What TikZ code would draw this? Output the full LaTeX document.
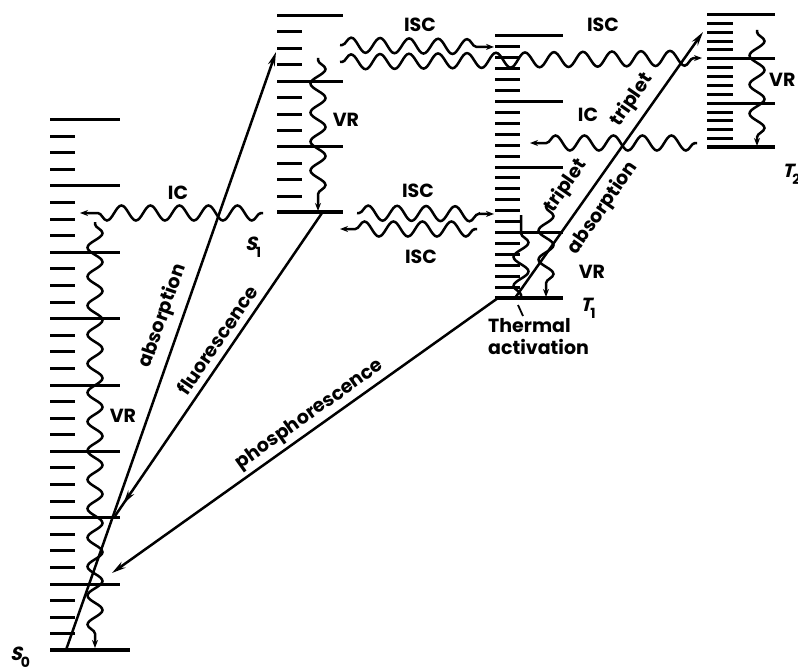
\documentclass[tikz,border=0pt]{standalone}
\usepackage{fontspec}
\setmainfont{Poppins}
\newfontfamily\slfont{Poppins}[FakeSlant=0.25]
\usetikzlibrary{decorations.pathmorphing,decorations.markings,arrows.meta}
\newcommand\stlbl[2]{{\slfont\bfseries #1}\kern-1pt\raisebox{-0.7ex}{\fontsize{14}{14}\selectfont\bfseries #2}}
\begin{document}
\begin{tikzpicture}[x=1pt,y=-1pt,
 lvl/.style={line width=3pt},
 gnd/.style={line width=4pt},
 wv/.style={line width=2.5pt, decorate, decoration={snake, amplitude=7.5pt, segment length=29pt, pre length=2pt, post length=6pt}},
 wva/.style={wv, -{Stealth[length=8pt,width=6pt]}},
 ray/.style={line width=2.5pt},
 raya/.style={ray, -{Stealth[length=14pt,width=7pt]}},
 lbl/.style={font=\fontsize{19}{22}\selectfont\bfseries, inner sep=0pt},
]
\useasboundingbox (0,0) rectangle (798,669);
% ---- S0 stack
\foreach \k in {0,...,7} {
  \pgfmathsetmacro\yy{round(119+66.375*\k)+0.5}
  \draw[lvl] (50,\yy) -- (120,\yy);
  \foreach \j in {1,2,3} {
    \pgfmathsetmacro\ys{round(119+66.375*\k+16.594*\j)+0.5}
    \draw[lvl] (50,\ys) -- (75,\ys);}
}
\draw[gnd] (50,650) -- (130,650);
% ---- S1 stack
\foreach \k in {0,1,2} {
  \pgfmathsetmacro\yy{round(15+65.667*\k)+0.5}
  \draw[lvl] (277,\yy) -- (343,\yy);
  \foreach \j in {1,2,3} {
    \pgfmathsetmacro\ys{round(15+65.667*\k+16.417*\j)+0.5}
    \draw[lvl] (277,\ys) -- (302,\ys);}
}
\draw[gnd] (277,212) -- (343,212);
% ---- T1 stack
\foreach \k in {0,...,3} {
  \pgfmathsetmacro\yy{round(35+65.75*\k)+0.5}
  \draw[lvl] (495,\yy) -- (563,\yy);
  \foreach \j in {1,...,5} {
    \pgfmathsetmacro\ys{round(35+65.75*\k+10.958*\j)+0.5}
    \draw[lvl] (495,\ys) -- (520,\ys);}
}
\draw[gnd] (495,298) -- (563,298);
% ---- T2 stack
\foreach \k in {0,1,2} {
  \pgfmathsetmacro\yy{round(14+44.333*\k)+0.5}
  \draw[lvl] (707,\yy) -- (775,\yy);
  \foreach \j in {1,...,4} {
    \pgfmathsetmacro\ys{round(14+44.333*\k+8.867*\j)+0.5}
    \draw[lvl] (707,\ys) -- (733,\ys);}
}
\draw[gnd] (707,147) -- (775,147);

% ---- coordinates
\coordinate (icA) at (263,213);  \coordinate (icB) at (80,213);
\coordinate (vr0a) at (95,222);  \coordinate (vr0b) at (95,648);
\coordinate (vr1a) at (318,58);  \coordinate (vr1b) at (318,211);
\coordinate (vr2a) at (757,30);  \coordinate (vr2b) at (757,146);
\coordinate (vr3a) at (546,205); \coordinate (vr3b) at (546,297);
\coordinate (taA) at (521,297);  \coordinate (taB) at (521,215);
\coordinate (iscAa) at (340,45); \coordinate (iscAb) at (494,47);
\coordinate (iscBa) at (340,62); \coordinate (iscBb) at (702,58);
\coordinate (iscCa) at (357,213); \coordinate (iscCb) at (494,214);
\coordinate (iscDa) at (477,229); \coordinate (iscDb) at (340,229);
\coordinate (icTa) at (697,143); \coordinate (icTb) at (530,143);
\coordinate (absA) at (66,650);  \coordinate (absB) at (276,52);
\coordinate (flA) at (322,213);  \coordinate (flB) at (115,516);
\coordinate (phA) at (498,298);  \coordinate (phB) at (112,573);
\coordinate (trA) at (515,298);  \coordinate (trB) at (703,32);
\coordinate (tkA) at (518,305);  \coordinate (tkB) at (523,316);

% ---- wavy transitions
\draw[wva] (icA) -- (icB);
\draw[wva] (vr0a) -- (vr0b);
\draw[wva] (vr1a) -- (vr1b);
\draw[wva] (vr2a) -- (vr2b);
\draw[wva] (vr3a) -- (vr3b);
\draw[wv] (taA) -- (taB);
\draw[wva] (iscAa) -- (iscAb);
\draw[wva] (iscBa) -- (iscBb);
\draw[wva] (iscCa) -- (iscCb);
\draw[wva] (iscDa) -- (iscDb);
\draw[wva] (icTa) -- (icTb);

% ---- radiative transitions
\draw[raya] (absA) -- (absB);
\draw[ray, postaction={decorate, decoration={markings, mark=at position 0.96 with {\arrow{Stealth[length=14pt,width=7pt]}}}}] (flA) -- (flB);
\draw[raya] (phA) -- (phB);
\draw[raya] (trA) -- (trB);
\draw[line width=1.8pt] (tkA) -- (tkB);

% ---- labels
\node[lbl, rotate=70.6] (labs) at (163,316) {absorption};
\node[lbl, rotate=55.6] (lfl) at (217,340) {fluorescence};
\node[lbl, rotate=35.4] (lph) at (310,415) {phosphorescence};
\node[lbl, rotate=55.2] (ltr1) at (566,186) {triplet};
\node[lbl, rotate=55.2] (lab2) at (603,208) {absorption};
\node[lbl, rotate=55.2] (ltr2) at (632,100) {triplet};
\node[lbl] (lic1) at (178,193) {IC};
\node[lbl] (lic2) at (588,115) {IC};
\node[lbl] (lisc1) at (420,25) {ISC};
\node[lbl] (lisc2) at (603,25) {ISC};
\node[lbl] (lisc3) at (418,191) {ISC};
\node[lbl] (lisc4) at (421,257) {ISC};
\node[lbl] (lvr0) at (123,416) {VR};
\node[lbl] (lvr1) at (346,120) {VR};
\node[lbl] (lvr3) at (592,272) {VR};
\node[lbl, anchor=west] (lvr2) at (769,80) {VR};
\node[lbl, align=left, anchor=north west] (lth) at (488,318) {Thermal\\activation};
\node[lbl, anchor=base west] (ls0) at (10,660) {\stlbl{S}{0}};
\node[lbl, anchor=base west] (ls1) at (245,250) {\stlbl{S}{1}};
\node[lbl, anchor=base west] (lt1) at (580,311) {\stlbl{T}{1}};
\node[lbl, anchor=base west] (lt2) at (782,177) {\stlbl{T}{2}};
\end{tikzpicture}
\end{document}
